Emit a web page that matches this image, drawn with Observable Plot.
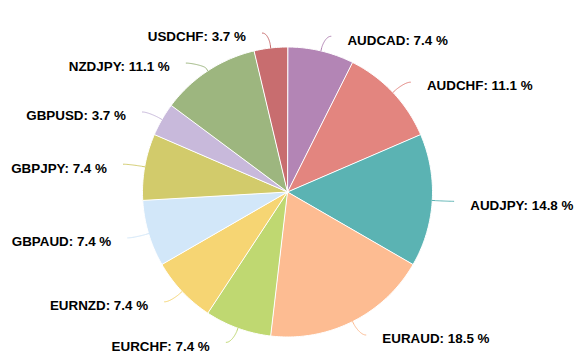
<!DOCTYPE html>
<html><head><meta charset="utf-8">
<script src="https://cdn.jsdelivr.net/npm/d3@7"></script>
<script src="https://cdn.jsdelivr.net/npm/@observablehq/plot@0.6"></script>
<style>body{margin:0;background:#fff}</style>
</head><body><div id="chart"></div>
<script>
const names = ["AUDCAD","AUDCHF","AUDJPY","EURAUD","EURCHF","EURNZD","GBPAUD","GBPJPY","GBPUSD","NZDJPY","USDCHF"];
const values = [7.4, 11.1, 14.8, 18.5, 7.4, 7.4, 7.4, 7.4, 3.7, 11.1, 3.7];
const colors = ["#b385b5","#e3857f","#5bb3b3","#fdbc92","#bfd871","#f6d573","#d2e7f9","#d2cb6b","#c8b9db","#9db67f","#c86d6f"];

const W = 580, H = 363, cx = 287, cy = 191.5, r = 145, labelR = 160;
const total = d3.sum(values);
const pt = (a, rad) => [cx + rad * Math.sin(a), cy - rad * Math.cos(a)];

let acc = 0;
const slices = names.map((n, i) => {
  const a0 = acc / total * 2 * Math.PI; acc += values[i];
  const a1 = acc / total * 2 * Math.PI;
  return {name: n, value: values[i], a0, a1, mid: (a0 + a1) / 2};
});

// slice polygons
const slicePts = [];
for (const s of slices) {
  slicePts.push({name: s.name, x: cx, y: cy});
  const n = Math.max(2, Math.ceil((s.a1 - s.a0) / (Math.PI / 180)));
  for (let k = 0; k <= n; k++) {
    const [x, y] = pt(s.a0 + (s.a1 - s.a0) * k / n, r);
    slicePts.push({name: s.name, x, y});
  }
}

// label layout (Highcharts-like)
const labels = slices.map(s => ({...s, left: s.mid > Math.PI, y: cy - labelR * Math.cos(s.mid)}));
for (const side of [true, false]) {
  const group = labels.filter(d => d.left === side).sort((a, b) => a.y - b.y);
  for (let i = 1; i < group.length; i++) {
    if (group[i].y < group[i - 1].y + 30) group[i].y = group[i - 1].y + 30;
  }
}
const getX = (y, left) => cx + (left ? -1 : 1) * Math.sqrt(Math.max(0, labelR * labelR - (y - cy) * (y - cy)));
const connPts = [];
for (const d of labels) {
  const sgn = d.left ? -1 : 1;
  const gx = getX(d.y, d.left);
  d.tx = gx + sgn * 23;
  d.ty = d.y + 4;
  d.label = `${d.name}: ${d.value} %`;
  const p0 = [gx + sgn * 6.5, d.y];
  const p1 = [p0[0] - sgn * 5, d.y];
  const p2 = pt(d.mid, r + 6);
  const p3 = pt(d.mid, r + 3);
  const p4 = pt(d.mid, r);
  const N = 24;
  for (let k = 0; k <= N; k++) {
    const t = k / N, u = 1 - t;
    const x = u*u*u*p0[0] + 3*u*u*t*p1[0] + 3*u*t*t*p2[0] + t*t*t*p3[0];
    const y = u*u*u*p0[1] + 3*u*u*t*p1[1] + 3*u*t*t*p2[1] + t*t*t*p3[1];
    connPts.push({name: d.name, x, y});
  }
  connPts.push({name: d.name, x: p4[0], y: p4[1]});
}

const textOpts = {x: "tx", y: "ty", text: "label", fill: "#000", fontWeight: "bold", fontSize: 13.4};

const chart = Plot.plot({
  width: W, height: H, margin: 0,
  x: {domain: [0, W], range: [0, W], axis: null},
  y: {domain: [0, H], range: [0, H], axis: null},
  color: {domain: names, range: colors},
  style: {fontFamily: "'Liberation Sans', Arial, sans-serif", background: "white"},
  marks: [
    Plot.line(slicePts, {x: "x", y: "y", z: "name", fill: "name", stroke: "white", strokeWidth: 1, curve: "linear-closed"}),
    Plot.line(connPts, {x: "x", y: "y", z: "name", stroke: "name", strokeWidth: 1}),
    Plot.text(labels.filter(d => !d.left), {...textOpts, textAnchor: "start"}),
    Plot.text(labels.filter(d => d.left), {...textOpts, textAnchor: "end"})
  ]
});
document.getElementById("chart").appendChild(chart);
</script>
</body></html>
